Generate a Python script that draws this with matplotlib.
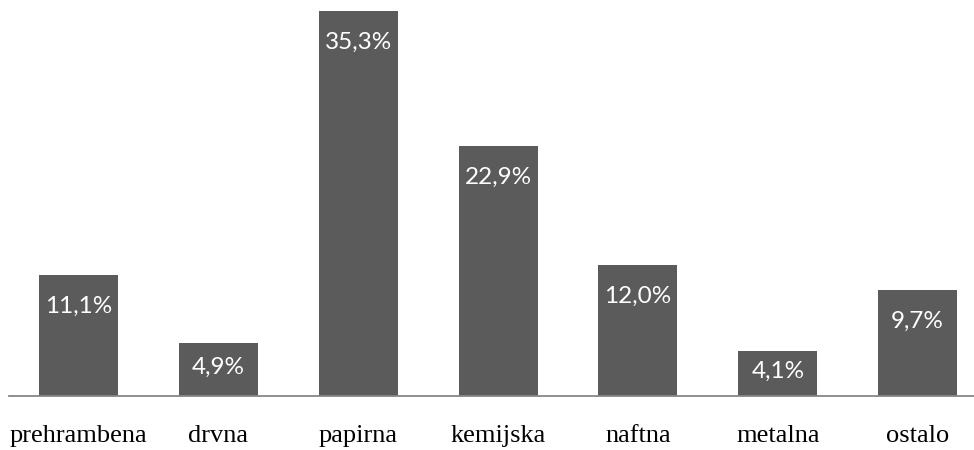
import numpy as np
import matplotlib
matplotlib.use("Agg")
import matplotlib.pyplot as plt

# --- Data ---
categories = ['prehrambena', 'drvna', 'papirna', 'kemijska', 'naftna', 'metalna', 'ostalo']
shares = [11.1, 4.9, 35.3, 22.9, 12.0, 4.1, 9.7]
labels = ['11,1%', '4,9%', '35,3%', '22,9%', '12,0%', '4,1%', '9,7%']

BAR_COLOR = '#5b5b5b'
DPI = 100

fig = plt.figure(figsize=(9.74, 4.5), dpi=DPI)
# axes spans the 7 category slots (~140 px each), baseline at y=396 px
ax = fig.add_axes([8.6 / 974, (450 - 396) / 450, 979 / 974, 385 / 450])

x = np.arange(len(categories))
ax.bar(x, shares, width=0.565, color=BAR_COLOR, zorder=2)
ax.set_xlim(-0.5, 6.5)
ax.set_ylim(0, 35.3)

# px per unit, for placing labels inside the bar tops
px_per_unit = 385 / 35.3
for xi, val, lab in zip(x, shares, labels):
    h_px = val * px_per_unit
    off = min(31, h_px / 2 - 2)
    ax.annotate(lab, (xi, val), xytext=(0, -off * 72 / DPI), textcoords='offset points',
                ha='center', va='center', color='white', fontsize=17.5, family='Lato')

for s in ['top', 'right', 'left']:
    ax.spines[s].set_visible(False)
ax.spines['bottom'].set_color('#868686')
ax.spines['bottom'].set_linewidth(1.3)
ax.spines['bottom'].set_zorder(3)

ax.set_yticks([])
ax.set_xticks(x)
ax.set_xticklabels(categories, family='Liberation Serif', fontsize=19)
ax.tick_params(axis='x', length=0, pad=21)

fig.savefig('out.png', dpi=DPI)
